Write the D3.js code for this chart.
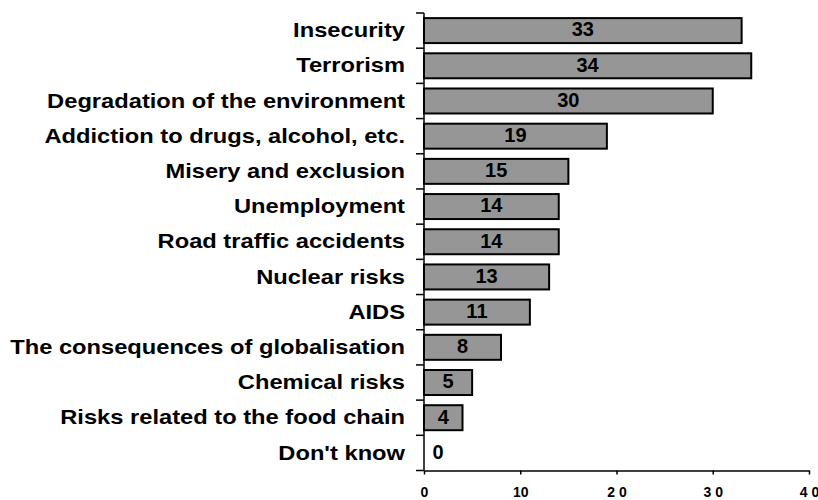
<!DOCTYPE html>
<html>
<head>
<meta charset="utf-8">
<script src="https://cdn.jsdelivr.net/npm/d3@7"></script>
<style>
  html, body { margin: 0; padding: 0; background: #fff; }
  svg { display: block; }
  text { font-family: Arial, "Liberation Sans", sans-serif; font-weight: bold; fill: #000; }
</style>
</head>
<body>
<svg id="chart" width="818" height="500"></svg>
<script>
// Survey answers, top to bottom
const categories = [
  "Insecurity",
  "Terrorism",
  "Degradation of the environment",
  "Addiction to drugs, alcohol, etc.",
  "Misery and exclusion",
  "Unemployment",
  "Road traffic accidents",
  "Nuclear risks",
  "AIDS",
  "The consequences of globalisation",
  "Chemical risks",
  "Risks related to the food chain",
  "Don't know"
];
const values = [33, 34, 30, 19, 15, 14, 14, 13, 11, 8, 5, 4, 0];
const tickValues = [0, 10, 20, 30, 40];
const tickLabels = ["0", "10", "2 0", "3 0", "4 0"];

const svg = d3.select("#chart");
const plotLeft = 424, plotRight = 809, plotTop = 13, plotBottom = 470.5;

const x = d3.scaleLinear().domain([0, 40]).range([plotLeft, plotRight]);
const y = d3.scaleBand().domain(categories).range([plotTop, plotBottom])
  .paddingInner(0.29).paddingOuter(0.145);

// Bars
svg.append("g").selectAll("rect")
  .data(categories)
  .join("rect")
  .attr("x", x(0))
  .attr("y", d => y(d))
  .attr("width", (d, i) => x(values[i]) - x(0))
  .attr("height", y.bandwidth())
  .attr("fill", "#969696")
  .attr("stroke", "#000")
  .attr("stroke-width", 2);

// Value labels inside the bars
svg.append("g").selectAll("text")
  .data(categories)
  .join("text")
  .attr("x", (d, i) => Math.max((x(values[i]) + x(0)) / 2, x(0) + 14))
  .attr("y", d => y(d) + y.bandwidth() / 2)
  .attr("dy", "0.29em")
  .attr("text-anchor", "middle")
  .attr("font-size", 20)
  .text((d, i) => values[i]);

// Category axis: vertical line with ticks between bands
const step = y.step();
const yAxis = svg.append("g");
yAxis.append("line")
  .attr("x1", plotLeft).attr("x2", plotLeft)
  .attr("y1", plotTop).attr("y2", plotBottom)
  .attr("stroke", "#000").attr("stroke-width", 1.5);
yAxis.selectAll("line.tick")
  .data(d3.range(categories.length + 1))
  .join("line")
  .attr("class", "tick")
  .attr("x1", plotLeft - 8).attr("x2", plotLeft)
  .attr("y1", i => plotTop + i * step)
  .attr("y2", i => plotTop + i * step)
  .attr("stroke", "#000").attr("stroke-width", 1.5);

// Category labels (wide bold face)
svg.append("g").selectAll("text")
  .data(categories)
  .join("text")
  .attr("transform", d => `translate(405,${y(d) + y.bandwidth() / 2}) scale(1.215,1)`)
  .attr("dy", "0.34em")
  .attr("text-anchor", "end")
  .attr("font-size", 19.5)
  .text(d => d);

// Value axis
const xAxis = d3.axisBottom(x)
  .tickValues(tickValues)
  .tickSizeInner(4)
  .tickSizeOuter(0)
  .tickFormat((d, i) => tickLabels[i]);
const gx = svg.append("g")
  .attr("transform", `translate(0,${plotBottom})`)
  .call(xAxis);
gx.select(".domain").attr("stroke", "#000").attr("stroke-width", 1.5);
gx.selectAll(".tick line").attr("stroke", "#000").attr("stroke-width", 1.5);
gx.selectAll(".tick text")
  .attr("y", 17)
  .attr("font-size", 14)
  .attr("font-family", "Arial, 'Liberation Sans', sans-serif")
  .attr("font-weight", "bold")
  .attr("fill", "#000");
</script>
</body>
</html>
